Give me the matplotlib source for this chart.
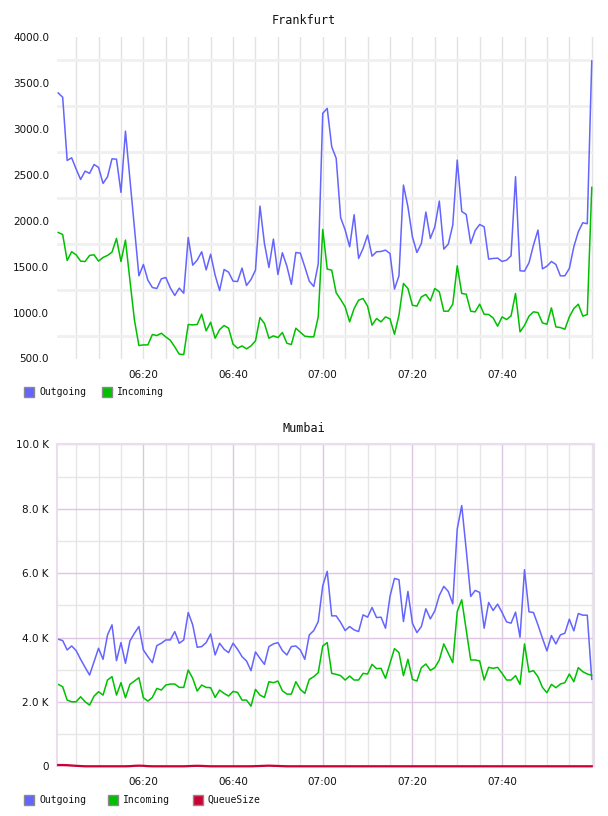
import numpy as np
import pandas as pd
import matplotlib
matplotlib.use('Agg')
import matplotlib.pyplot as plt
import matplotlib.dates as mdates
from matplotlib.patches import Rectangle
from matplotlib.ticker import FixedLocator, FuncFormatter

# ---------------- data ----------------
start_time = '2024-01-01 06:01'
n_points = 120
times = pd.date_range(start_time, periods=n_points, freq='min')

x_tick_labels = ['06:20', '06:40', '07:00', '07:20', '07:40']

frankfurt_outgoing = [
    3391, 3344, 2656, 2685, 2562, 2449, 2540, 2515, 2612, 2580,
    2406, 2478, 2674, 2670, 2308, 2975, 2450, 1925, 1400, 1524,
    1353, 1273, 1262, 1367, 1382, 1269, 1186, 1266, 1211, 1817,
    1516, 1571, 1662, 1465, 1636, 1407, 1240, 1469, 1440, 1342,
    1338, 1484, 1295, 1360, 1462, 2159, 1752, 1491, 1800, 1415,
    1651, 1506, 1306, 1654, 1647, 1498, 1342, 1284, 1531, 3169,
    3223, 2806, 2679, 2032, 1900, 1716, 2065, 1589, 1698, 1843,
    1614, 1662, 1665, 1680, 1643, 1255, 1400, 2388, 2152, 1825,
    1654, 1752, 2094, 1807, 1934, 2214, 1691, 1745, 1952, 2660,
    2101, 2068, 1752, 1894, 1959, 1934, 1582, 1589, 1593, 1556,
    1571, 1618, 2479, 1455, 1451, 1542, 1734, 1898, 1476, 1505,
    1556, 1524, 1400, 1400, 1480, 1716, 1880, 1978, 1967, 3739,
]
frankfurt_incoming = [
    1872, 1850, 1567, 1662, 1629, 1560, 1556, 1622, 1629, 1560,
    1600, 1622, 1658, 1807, 1556, 1789, 1350, 920, 641, 648,
    648, 761, 750, 775, 735, 699, 626, 547, 543, 870,
    866, 870, 982, 801, 895, 721, 815, 859, 830, 656,
    612, 637, 605, 637, 692, 946, 881, 721, 746, 728,
    783, 666, 652, 830, 786, 743, 736, 736, 954, 1905,
    1473, 1462, 1215, 1142, 1062, 899, 1044, 1135, 1153, 1070,
    863, 935, 899, 953, 932, 764, 971, 1317, 1262, 1080,
    1070, 1171, 1197, 1128, 1262, 1226, 1015, 1015, 1091, 1509,
    1208, 1200, 1015, 1008, 1091, 982, 979, 942, 852, 953,
    924, 964, 1208, 790, 859, 961, 1008, 1000, 888, 873,
    1051, 844, 837, 819, 953, 1044, 1091, 961, 979, 2363,
]

mumbai_outgoing = [
    3948, 3907, 3616, 3740, 3595, 3325, 3075, 2836, 3252, 3668,
    3325, 4083, 4395, 3283, 3844, 3200, 3896, 4135, 4343, 3616,
    3408, 3221, 3751, 3824, 3927, 3927, 4187, 3824, 3927, 4779,
    4395, 3699, 3720, 3844, 4114, 3460, 3824, 3637, 3533, 3824,
    3637, 3408, 3273, 2972, 3553, 3356, 3169, 3720, 3803, 3844,
    3595, 3460, 3720, 3740, 3616, 3325, 4083, 4218, 4499, 5611,
    6057, 4675, 4675, 4468, 4218, 4343, 4239, 4187, 4707, 4634,
    4935, 4623, 4634, 4291, 5278, 5839, 5798, 4499, 5434, 4447,
    4156, 4343, 4894, 4582, 4831, 5309, 5590, 5434, 5050, 7377,
    8104, 6733, 5278, 5465, 5403, 4291, 5091, 4842, 5039, 4779,
    4489, 4447, 4790, 4011, 6109, 4800, 4779, 4395, 3979, 3585,
    4062, 3803, 4083, 4135, 4572, 4208, 4748, 4696, 4696, 2701,
]
mumbai_incoming = [
    2546, 2473, 2057, 2005, 2005, 2161, 2005, 1901, 2182, 2317,
    2213, 2681, 2785, 2213, 2598, 2130, 2546, 2649, 2753, 2130,
    2026, 2140, 2421, 2369, 2525, 2556, 2556, 2452, 2452, 2992,
    2733, 2338, 2525, 2452, 2442, 2140, 2369, 2265, 2182, 2327,
    2296, 2057, 2057, 1870, 2390, 2213, 2140, 2629, 2598, 2649,
    2348, 2244, 2244, 2629, 2390, 2265, 2701, 2785, 2909, 3740,
    3844, 2888, 2857, 2816, 2681, 2805, 2681, 2681, 2888, 2868,
    3169, 3034, 3044, 2733, 3200, 3657, 3533, 2816, 3325, 2701,
    2649, 3065, 3179, 2982, 3065, 3304, 3803, 3512, 3221, 4811,
    5174, 4239, 3304, 3304, 3273, 2681, 3075, 3044, 3075, 2888,
    2681, 2681, 2816, 2546, 3803, 2930, 2972, 2785, 2452, 2286,
    2546, 2442, 2556, 2598, 2868, 2629, 3065, 2940, 2868, 2826,
]
mumbai_queue = [
    40, 40, 35, 25, 15, 8, 0, 0, 0, 0,
    0, 0, 0, 0, 0, 0, 5, 15, 20, 15,
    5, 0, 0, 0, 0, 0, 0, 0, 0, 5,
    12, 15, 12, 5, 0, 0, 0, 0, 0, 0,
    0, 0, 0, 0, 5, 10, 15, 20, 15, 10,
    5, 0, 0, 0, 0, 0, 0, 0, 0, 0,
    0, 0, 0, 0, 0, 0, 0, 0, 0, 0,
    0, 0, 0, 0, 0, 0, 0, 0, 0, 0,
    0, 0, 0, 0, 0, 0, 0, 0, 0, 0,
    0, 0, 0, 0, 0, 0, 0, 0, 0, 0,
    0, 0, 0, 0, 0, 0, 0, 0, 0, 0,
    0, 0, 0, 0, 0, 0, 0, 0, 0, 0,
]

frankfurt_yticks = [500, 1000, 1500, 2000, 2500, 3000, 3500, 4000]
frankfurt_ygrid = [750, 1250, 1750, 2250, 2750, 3250, 3750]
mumbai_yticks = [0, 2000, 4000, 6000, 8000, 10000]
mumbai_yminor = [1000, 3000, 5000, 7000, 9000]

# ---------------- style ----------------
C_OUT = '#6464ff'
C_IN = '#00c000'
C_Q = '#cc0033'
W, H = 608, 816

fig = plt.figure(figsize=(W / 100, H / 100), dpi=100)
fig.patch.set_facecolor('white')


def fx(px):
    return px / W


def fy(py):
    return 1 - py / H


day = '2024-01-01 '
xmin = pd.Timestamp(day + '06:00:48')
xmax = pd.Timestamp(day + '08:00:30')
major_x = [mdates.date2num(pd.Timestamp(day + s)) for s in x_tick_labels]


def setup_x(ax):
    ax.set_xlim(xmin, xmax)
    ax.xaxis.set_major_locator(FixedLocator(major_x))
    ax.xaxis.set_major_formatter(mdates.DateFormatter('%H:%M'))
    ax.xaxis.set_minor_locator(mdates.MinuteLocator(byminute=range(0, 60, 5)))
    ax.tick_params(axis='both', which='both', length=0, labelsize=7.5,
                   labelcolor='#111111')
    ax.tick_params(axis='x', pad=8)
    ax.tick_params(axis='y', pad=6)


# ---------------- Frankfurt ----------------
ax1 = fig.add_axes([fx(57.3), fy(358.5), fx(594) - fx(57.3), fy(37) - fy(358.5)])
ax1.set_axisbelow(True)
setup_x(ax1)
ax1.set_ylim(500, 4000)
ax1.set_yticks(frankfurt_yticks)
ax1.set_yticklabels([f'{v:.1f}' for v in frankfurt_yticks])
ax1.set_yticks(frankfurt_ygrid, minor=True)
ax1.yaxis.grid(True, which='minor', color='#f0f0f0', lw=2)
ax1.yaxis.grid(False, which='major')
ax1.xaxis.grid(True, which='both', color='#e3e3e3', lw=1)
for s in ax1.spines.values():
    s.set_visible(False)
ax1.plot(times, frankfurt_outgoing, color=C_OUT, lw=1.1)
ax1.plot(times, frankfurt_incoming, color=C_IN, lw=1.1)

fig.text(0.5, fy(20.5), 'Frankfurt', ha='center', va='center',
         family='DejaVu Sans Mono', size=8.5, color='#111111')

# ---------------- Mumbai ----------------
ax2 = fig.add_axes([fx(57.3), fy(766.3), fx(594) - fx(57.3), fy(444.5) - fy(766.3)])
ax2.set_axisbelow(True)
setup_x(ax2)
ax2.set_ylim(0, 10000)
ax2.set_yticks(mumbai_yticks)
ax2.yaxis.set_major_formatter(FuncFormatter(lambda v, p: '0' if v == 0 else f'{v / 1000:.1f} K'))
ax2.set_yticks(mumbai_yminor, minor=True)
ax2.yaxis.grid(True, which='major', color='#dcc6e1', lw=1)
ax2.yaxis.grid(True, which='minor', color='#e6e6e6', lw=1)
ax2.xaxis.grid(True, which='major', color='#dcc6e1', lw=1)
ax2.xaxis.grid(True, which='minor', color='#e6e6e6', lw=1)
for s in ax2.spines.values():
    s.set_color('#ecdcef')
    s.set_linewidth(1.5)
ax2.plot(times, mumbai_outgoing, color=C_OUT, lw=1.1)
ax2.plot(times, mumbai_incoming, color=C_IN, lw=1.1)
ax2.plot(times, mumbai_queue, color=C_Q, lw=1.6, clip_on=False, zorder=4)

fig.text(0.5, fy(429), 'Mumbai', ha='center', va='center',
         family='DejaVu Sans Mono', size=8.5, color='#111111')


# ---------------- legends ----------------
def legend_item(xbox, ycenter, color, label):
    fig.add_artist(Rectangle((fx(xbox), fy(ycenter + 5)), 10 / W, 10 / H,
                             transform=fig.transFigure, facecolor=color,
                             edgecolor='#8a8a8a', lw=1))
    fig.text(fx(xbox + 15), fy(ycenter), label, ha='left', va='center',
             family='DejaVu Sans Mono', size=7, color='#111111')


legend_item(24, 392, C_OUT, 'Outgoing')
legend_item(102, 392, C_IN, 'Incoming')

legend_item(24, 800, C_OUT, 'Outgoing')
legend_item(108, 800, C_IN, 'Incoming')
legend_item(193, 800, C_Q, 'QueueSize')

fig.savefig('out.png', dpi=100, facecolor='white')
